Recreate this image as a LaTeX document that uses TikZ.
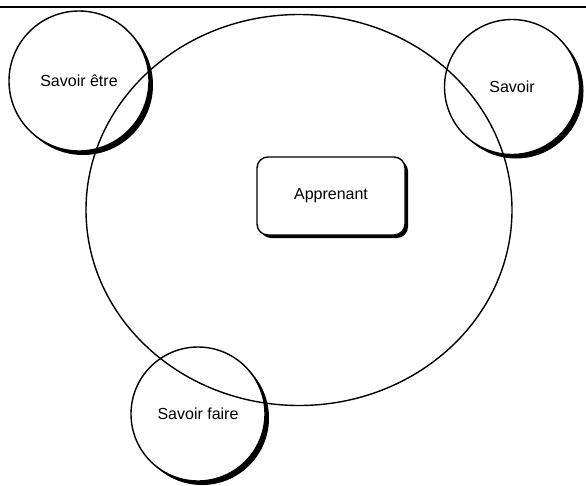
\documentclass[tikz,border=0pt]{standalone}
\usepackage{fontspec}
\setmainfont{Liberation Sans}
\usetikzlibrary{shapes.geometric, shadows, positioning}
\tikzset{
    savoir/.style={circle,draw,fill=white,inner sep=0pt,
        drop shadow={shadow xshift=4pt,shadow yshift=-4pt,fill=black,opacity=1}},
    apprenant/.style={rectangle,rounded corners=11pt,draw,fill=white,
        minimum width=148pt,minimum height=78pt,
        drop shadow={shadow xshift=3pt,shadow yshift=-3pt,fill=black,opacity=1}},
    cercle/.style={ellipse,draw,minimum width=426pt,minimum height=391pt},
    textnode/.style={}}

\begin{document}
\begin{tikzpicture}
[x=1pt,y=-1pt,line width=1.4pt,font=\fontsize{16}{19}\selectfont]
\useasboundingbox (0,0) rectangle (586,485);
\draw[line width=2.5pt] (0,7) -- (586,7);

\node[savoir,minimum size=140pt] (etre)  at (79,81)   {Savoir être};
\node[savoir,minimum size=135pt] (sav)   at (512,87)  {Savoir};
\node[savoir,minimum size=134pt] (faire) at (198,414) {Savoir faire};
\node[apprenant] (app) at (331,196) {Apprenant};

\node[cercle] (tout) at (299,210) {};
\end{tikzpicture}
\end{document}
